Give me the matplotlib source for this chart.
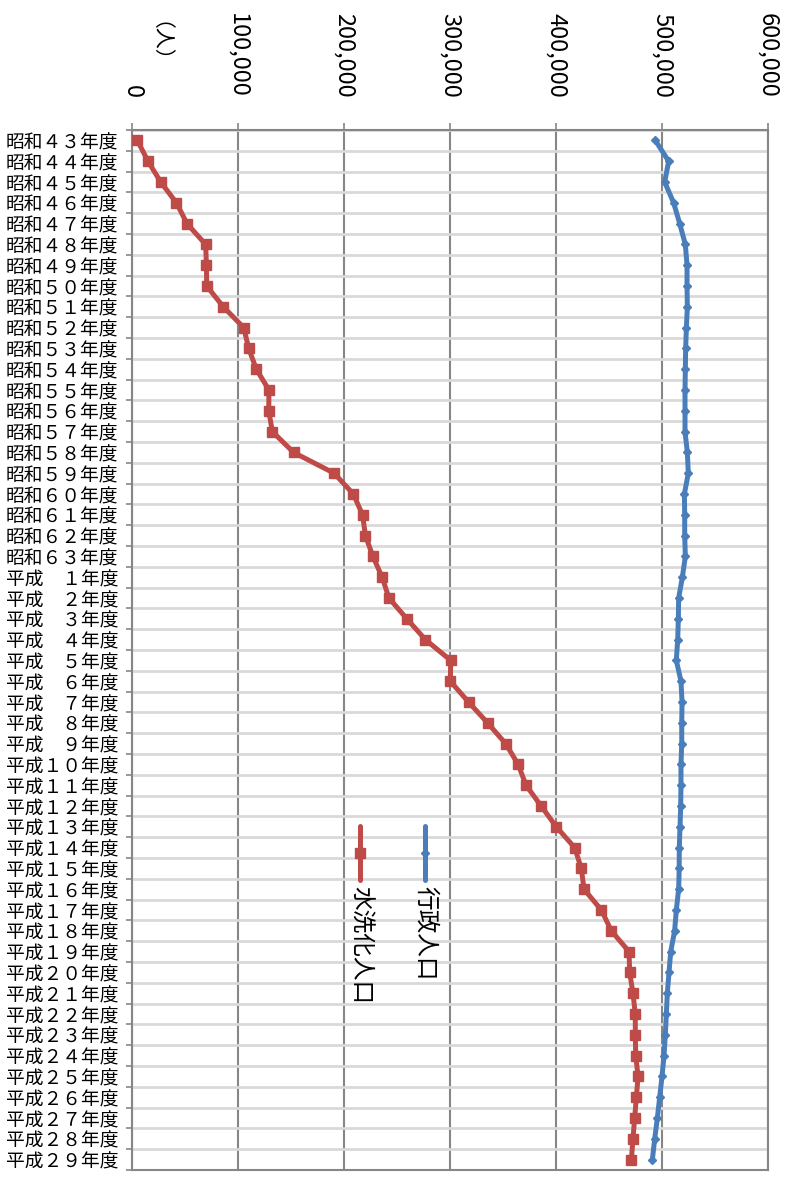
import matplotlib.pyplot as plt

plt.rcParams['font.family'] = ['Noto Sans CJK JP', 'DejaVu Sans']

# categories (年度)
years = [
    '昭和４３年度', '昭和４４年度', '昭和４５年度', '昭和４６年度', '昭和４７年度',
    '昭和４８年度', '昭和４９年度', '昭和５０年度', '昭和５１年度', '昭和５２年度',
    '昭和５３年度', '昭和５４年度', '昭和５５年度', '昭和５６年度', '昭和５７年度',
    '昭和５８年度', '昭和５９年度', '昭和６０年度', '昭和６１年度', '昭和６２年度',
    '昭和６３年度', '平成　１年度', '平成　２年度', '平成　３年度', '平成　４年度',
    '平成　５年度', '平成　６年度', '平成　７年度', '平成　８年度', '平成　９年度',
    '平成１０年度', '平成１１年度', '平成１２年度', '平成１３年度', '平成１４年度',
    '平成１５年度', '平成１６年度', '平成１７年度', '平成１８年度', '平成１９年度',
    '平成２０年度', '平成２１年度', '平成２２年度', '平成２３年度', '平成２４年度',
    '平成２５年度', '平成２６年度', '平成２７年度', '平成２８年度', '平成２９年度',
]

# 行政人口
gyosei = [
    493700, 506300, 502500, 511000, 516700, 522000, 523600, 523600, 523900, 523000,
    522300, 522000, 521700, 521700, 521700, 523900, 524800, 521100, 521400, 521400,
    522000, 519200, 515700, 515400, 514800, 513500, 517900, 518900, 518600, 518600,
    517900, 517900, 517600, 517000, 516300, 516200, 515700, 513500, 511900, 508200,
    506600, 505000, 504100, 503100, 501900, 500000, 497800, 495600, 493100, 490900,
]

# 水洗化人口
suisen = [
    5100, 15100, 27100, 41900, 51900, 69500, 70200, 70500, 86200, 105400,
    110100, 117300, 129200, 129000, 132400, 152500, 190700, 208800, 217500, 220200,
    227300, 236000, 242400, 259300, 276800, 300700, 300300, 317500, 335400, 352500,
    364300, 371700, 386000, 400300, 417600, 423900, 426400, 442800, 452200, 468900,
    469500, 472600, 474800, 474800, 475200, 477400, 475800, 474200, 472600, 471100,
]

xticks = [0, 100000, 200000, 300000, 400000, 500000, 600000]

blue = '#4A7EBB'
red = '#BE4B48'
gray = '#868686'

fig = plt.figure(figsize=(7.89, 11.79), dpi=100)
ax = fig.add_axes([0.1673, 0.0076, 0.8061, 0.8821])

pos = list(range(len(years)))
ax.plot(gyosei, pos, color=blue, lw=3.6, marker='D', ms=4.5, zorder=3)
ax.plot(suisen, pos, color=red, lw=3.6, marker='s', ms=7, zorder=4)

ax.set_xlim(0, 600000)
ax.set_ylim(len(years) - 0.5, -0.5)

# value axis on top, labels reading downward
ax.xaxis.tick_top()
ax.set_xticks(xticks)
ax.set_xticklabels([f'{v:,}' for v in xticks], rotation=-90, fontsize=17)
ax.tick_params(axis='x', direction='out', length=5, width=1.2, color=gray, pad=18)

# category axis
ax.set_yticks(pos)
ax.set_yticklabels(years, fontsize=13.5)
ax.tick_params(axis='y', which='major', length=0, pad=10)
ax.set_yticks([p - 0.5 for p in pos] + [len(years) - 0.5], minor=True)
ax.tick_params(axis='y', which='minor', length=4.5, width=1.2, color=gray)

ax.grid(axis='y', which='minor', color='#D9D9D9', lw=2)
ax.grid(axis='x', which='major', color=gray, lw=1.5)
ax.set_axisbelow(True)
for s in ax.spines.values():
    s.set_color(gray)
    s.set_linewidth(1.5)

# unit label
fig.text(0.1876, 0.956, '（人）', rotation=-90, fontsize=15, ha='center', va='center')

# legend (vertical, like the original)
legend_items = [('行政人口', blue, 'D', 4.5, 0.4607), ('水洗化人口', red, 's', 7, 0.3585)]
for name, col, mk, size, lx in legend_items:
    ax.plot([lx, lx], [0.331, 0.279], transform=ax.transAxes, color=col, lw=3.6,
            solid_capstyle='round', zorder=5)
    ax.plot([lx], [0.305], transform=ax.transAxes, color=col, marker=mk, ms=size, zorder=5)
    ax.text(lx, 0.273, name, transform=ax.transAxes, rotation=-90, fontsize=17,
            ha='center', va='top', zorder=5)

plt.savefig('out.png', dpi=100)
